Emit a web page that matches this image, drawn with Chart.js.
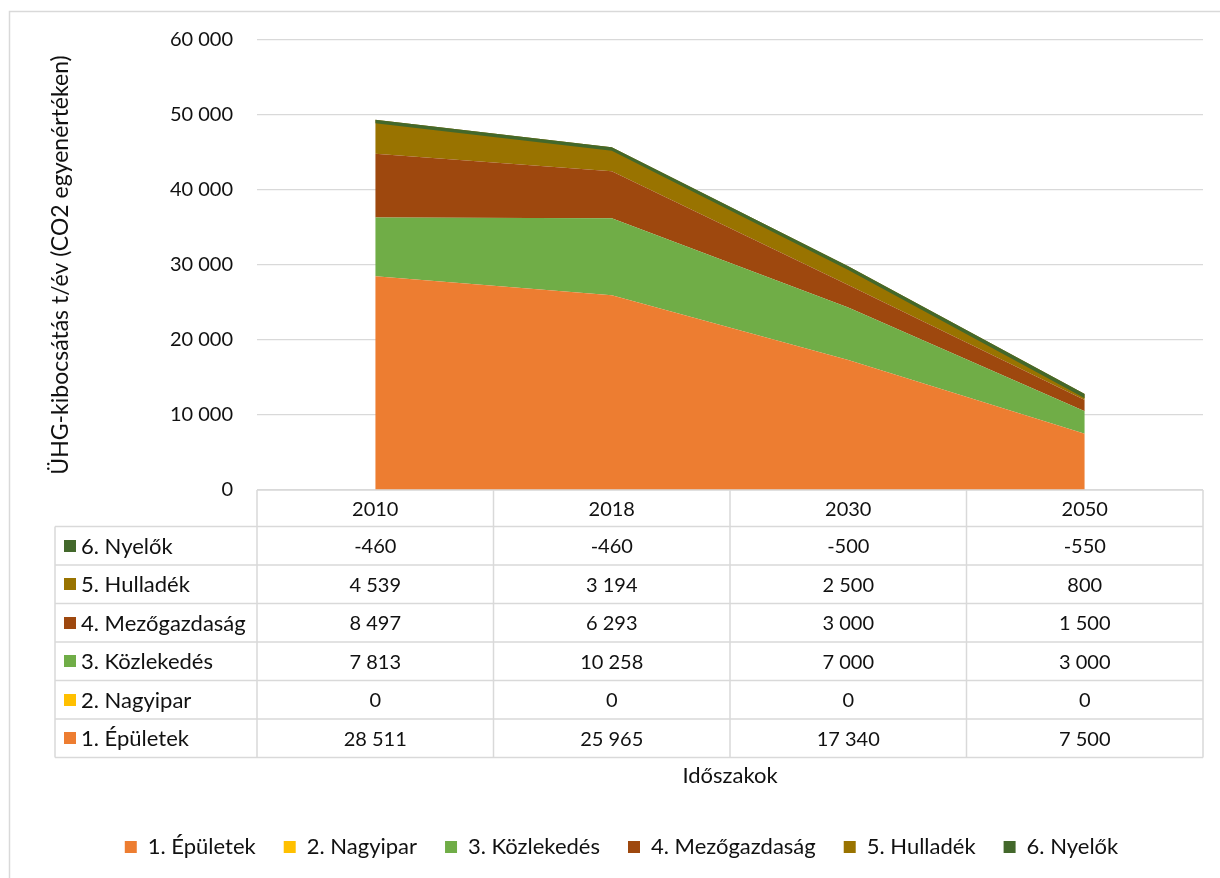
<!DOCTYPE html>
<html>
<head>
<meta charset="utf-8">
<script src="https://cdn.jsdelivr.net/npm/chart.js@4/dist/chart.umd.min.js"></script>
<style>
  html, body { margin: 0; padding: 0; background: #fff; }
  #wrap { width: 1220px; height: 878px; position: relative; }
</style>
</head>
<body>
<div id="wrap"><canvas id="c" width="1220" height="878"></canvas></div>
<script>
// ---- Data ----
const categories = ['2010', '2018', '2030', '2050'];
const seriesNames = ['1. Épületek', '2. Nagyipar', '3. Közlekedés', '4. Mezőgazdaság', '5. Hulladék', '6. Nyelők'];
const epuletek     = [28511, 25965, 17340, 7500];
const nagyipar     = [0, 0, 0, 0];
const kozlekedes   = [7813, 10258, 7000, 3000];
const mezogazdasag = [8497, 6293, 3000, 1500];
const hulladek     = [4539, 3194, 2500, 800];
const nyelok       = [-460, -460, -500, -550];
const seriesColors = ['#ED7D31', '#FFC000', '#70AD47', '#9E480E', '#997300', '#43682B'];
const yTicks = [0, 10000, 20000, 30000, 40000, 50000, 60000];

const seriesValues = [epuletek, nagyipar, kozlekedes, mezogazdasag, hulladek, nyelok];

// cumulative (stacked) tops, built from the series arrays
const cumulative = [];
seriesValues.forEach((arr, s) => {
  cumulative.push(arr.map((v, i) => (s === 0 ? 0 : cumulative[s - 1][i]) + v));
});

const FONT = 'Lato, "Noto Sans", sans-serif';
const TXT = '#111';
const GRID = '#d9d9d9';
const LABEL_SIZE = 22;
const NUM_SIZE = 20;

function fmt(v) {
  const s = String(Math.abs(v)).replace(/\B(?=(\d{3})+(?!\d))/g, ' ');
  return (v < 0 ? '-' : '') + s;
}

const datasets = seriesNames.map((name, s) => ({
  label: name,
  data: cumulative[s],
  backgroundColor: seriesColors[s],
  borderColor: seriesColors[s],
  borderWidth: 0,
  pointRadius: 0,
  pointHoverRadius: 0,
  tension: 0,
  fill: s === 0 ? 'origin' : '-1',
  order: s === seriesNames.length - 1 ? 0 : s + 1
}));

const frame = {
  id: 'frame',
  beforeDraw(chart) {
    const ctx = chart.ctx;
    ctx.save();
    ctx.fillStyle = '#fff';
    ctx.fillRect(0, 0, chart.width, chart.height);
    ctx.strokeStyle = GRID;
    ctx.lineWidth = 1.5;
    ctx.beginPath();
    ctx.moveTo(9.5, chart.height);
    ctx.lineTo(9.5, 11.5);
    ctx.lineTo(chart.width, 11.5);
    ctx.stroke();
    ctx.restore();
  }
};

const dataTable = {
  id: 'dataTable',
  afterDraw(chart) {
    const ctx = chart.ctx;
    const ca = chart.chartArea;
    const xs = chart.scales.x;
    const n = categories.length;
    const colW = (ca.right - ca.left) / n;
    const headTop = ca.bottom;
    const headH = 36.5;
    const rowH = 38.5;
    const labelLeft = 55;
    const rows = seriesNames.length;
    const bottom = headTop + headH + rows * rowH;

    ctx.save();
    ctx.strokeStyle = GRID;
    ctx.lineWidth = 1.5;
    ctx.beginPath();
    ctx.moveTo(ca.left, headTop); ctx.lineTo(ca.right, headTop);
    for (let r = 0; r <= rows; r++) {
      const y = headTop + headH + r * rowH;
      ctx.moveTo(labelLeft, y); ctx.lineTo(ca.right, y);
    }
    for (let i = 0; i <= n; i++) {
      const x = ca.left + i * colW;
      ctx.moveTo(x, headTop); ctx.lineTo(x, bottom);
    }
    ctx.moveTo(labelLeft, headTop + headH); ctx.lineTo(labelLeft, bottom);
    ctx.stroke();

    ctx.fillStyle = TXT;
    ctx.textBaseline = 'middle';
    ctx.textAlign = 'center';
    ctx.font = NUM_SIZE + 'px ' + FONT;
    categories.forEach((c, i) => {
      ctx.fillText(c, xs.getPixelForValue(i), headTop + headH / 2 + 1);
    });
    for (let r = 0; r < rows; r++) {
      const s = rows - 1 - r;
      const yc = headTop + headH + r * rowH + rowH / 2 + 1;
      ctx.fillStyle = seriesColors[s];
      ctx.fillRect(64, Math.round(yc - 7), 12, 12);
      ctx.fillStyle = TXT;
      ctx.textAlign = 'left';
      ctx.font = LABEL_SIZE + 'px ' + FONT;
      ctx.fillText(seriesNames[s], 81, yc);
      ctx.textAlign = 'center';
      ctx.font = NUM_SIZE + 'px ' + FONT;
      seriesValues[s].forEach((v, i) => {
        ctx.fillText(fmt(v), xs.getPixelForValue(i), yc);
      });
    }
    ctx.restore();
  }
};

new Chart(document.getElementById('c'), {
  type: 'line',
  data: { labels: categories, datasets },
  plugins: [frame, dataTable],
  options: {
    responsive: false,
    animation: false,
    events: [],
    layout: { padding: { left: 40, top: 40, right: 17, bottom: 10 } },
    plugins: {
      filler: { propagate: false },
      tooltip: { enabled: false },
      legend: {
        position: 'bottom',
        labels: {
          boxWidth: 12,
          boxHeight: 12,
          padding: 28,
          color: TXT,
          font: { family: FONT, size: LABEL_SIZE },
          sort: (a, b) => a.datasetIndex - b.datasetIndex
        }
      }
    },
    scales: {
      x: {
        type: 'category',
        offset: true,
        grid: { display: false },
        border: { display: false },
        ticks: { display: false },
        title: {
          display: true,
          text: 'Időszakok',
          color: TXT,
          font: { family: FONT, size: LABEL_SIZE },
          padding: { top: 0, bottom: 19 }
        },
        afterFit(scale) { scale.height = 318; }
      },
      y: {
        min: yTicks[0],
        max: yTicks[yTicks.length - 1],
        afterBuildTicks(scale) { scale.ticks = yTicks.map(v => ({ value: v })); },
        grid: { color: GRID, lineWidth: 1.3, drawTicks: false },
        border: { display: false },
        ticks: {
          padding: 24,
          color: TXT,
          font: { family: FONT, size: NUM_SIZE },
          callback: (v) => fmt(v)
        },
        title: {
          display: true,
          text: 'ÜHG-kibocsátás t/év (CO2 egyenértéken)',
          color: TXT,
          font: { family: FONT, size: 23 },
          padding: { top: 7, bottom: 0 }
        },
        afterFit(scale) { scale.width = 217; }
      }
    }
  }
});
</script>
</body>
</html>
